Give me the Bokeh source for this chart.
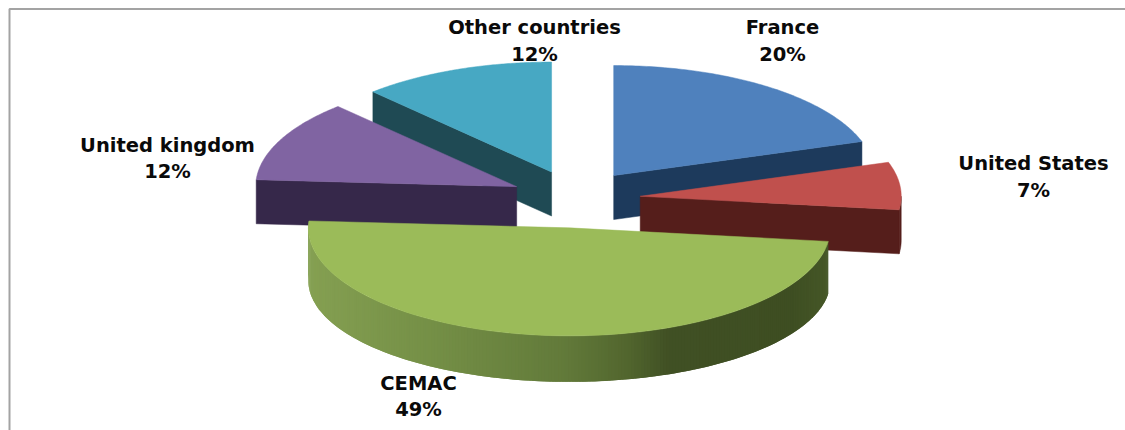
import math
from bokeh.plotting import figure
from bokeh.models import Range1d
from bokeh.core.properties import value
from bokeh.embed import file_html
from bokeh.resources import INLINE

# ---- data -------------------------------------------------------------
categories = ["France", "United States", "CEMAC", "United kingdom", "Other countries"]
shares = [20, 7, 49, 12, 12]
top_colors = ["#4f81bd", "#c0504d", "#9bbb59", "#8064a2", "#47a8c3"]
side_colors = ["#1d3a5c", "#551e1b", "#4a5e2b", "#36284a", "#1f4a54"]
draw_order = [4, 0, 3, 1, 2]

# label centres (page pixels)
label_x = [782, 1033, 418, 167, 534]
label_y1 = [27, 163, 383, 145, 27]
label_y2 = [54, 190, 409, 171, 54]

# gradient on the big slice's outer wall: (fraction across, colour)
wall_stops = [(0.0, (133, 160, 82)), (0.25, (116, 143, 70)), (0.5, (98, 122, 58)),
              (0.62, (82, 102, 46)), (0.70, (64, 80, 36)), (0.93, (62, 78, 34)),
              (1.0, (70, 88, 40))]

# ---- layout -------------------------------------------------------------
W, H = 1125, 430
CX, CY = 575, 198.5     # pie centre
A, B_BACK, B_FRONT = 261, 110, 108
EX, EY = 65, 29          # explosion
DEPTH = 44
WALL_D, WALL_B = 53, 101  # lower rim of a front wall


def rim(ax, ay, deg):
    t = math.radians(deg)
    b = B_BACK if math.cos(t) >= 0 else B_FRONT
    return ax + A * math.sin(t), ay - b * math.cos(t)


def low(ax, ay, deg):
    t = math.radians(deg)
    return ax + A * math.sin(t), ay + WALL_D - WALL_B * math.cos(t)


def mix(f):
    for (f0, c0), (f1, c1) in zip(wall_stops, wall_stops[1:]):
        if f <= f1:
            k = (f - f0) / (f1 - f0)
            return "#%02x%02x%02x" % tuple(round(a + (b - a) * k) for a, b in zip(c0, c1))
    return "#%02x%02x%02x" % wall_stops[-1][1]


p = figure(width=W, height=H, x_range=Range1d(0, W), y_range=Range1d(H, 0),
           output_backend="svg", toolbar_location=None, min_border=0,
           background_fill_color="white",
           border_fill_color="white", outline_line_color=None)
p.axis.visible = False
p.grid.visible = False

# chart frame
p.line([9, 9, W], [H, 8.5, 8.5], line_color="#a3a3a3", line_width=2)

starts, acc = [], 0
for s in shares:
    starts.append(acc * 3.6)
    acc += s

big = shares.index(max(shares))
for i in draw_order:
    a0, a1 = starts[i], starts[i] + shares[i] * 3.6
    mid = math.radians((a0 + a1) / 2)
    ax, ay = CX + EX * math.sin(mid), CY - EY * math.cos(mid)

    # radial cut face
    for edge, show in ((a1, 0 < a1 < 180), (a0, 180 < a0 < 360)):
        if show:
            tx, ty = rim(ax, ay, edge)
            p.patch([ax, tx, tx, ax], [ay, ty, ty + DEPTH, ay + DEPTH],
                    fill_color=side_colors[i], line_color=side_colors[i], line_width=0.5)

    # outer wall
    lo, hi = max(a0, 90), min(a1, 270)
    if i != big and lo < hi:
        n = 6
        angs = [lo + (hi - lo) * k / n for k in range(n + 1)]
        xs = [rim(ax, ay, d)[0] for d in angs] + [rim(ax, ay, d)[0] for d in reversed(angs)]
        ys = [rim(ax, ay, d)[1] for d in angs] + [rim(ax, ay, d)[1] + DEPTH for d in reversed(angs)]
        p.patch(xs, ys, fill_color=side_colors[i], line_color=side_colors[i], line_width=0.5)
    elif i == big:
        n = 240
        xmin, xmax = ax - A, ax + A
        angs = [a0 + (a1 - a0) * k / n for k in range(n + 1)]
        # drawn from the far end, each strip running under the next one
        for k in range(n - 1, -1, -1):
            d0, d1 = angs[k], angs[min(k + 2, n)]
            x0, y0 = rim(ax, ay, d0)
            x1, y1 = rim(ax, ay, d1)
            x2, y2 = low(ax, ay, d1)
            x3, y3 = low(ax, ay, d0)
            c = mix((x0 - xmin) / (xmax - xmin))
            p.patch([x0, x1, x2, x3], [y0, y1, y2, y3], fill_color=c, line_color=None)

    # top face
    n = 90
    angs = [a0 + (a1 - a0) * k / n for k in range(n + 1)]
    pts = [rim(ax, ay, d) for d in angs]
    p.patch([ax] + [q[0] for q in pts], [ay] + [q[1] for q in pts],
            fill_color=top_colors[i], line_color=top_colors[i], line_width=0.5)

# labels
for i, name in enumerate(categories):
    for txt, y in ((name, label_y1[i]), (f"{shares[i]}%", label_y2[i])):
        p.text([label_x[i]], [y], text=[txt], text_align="center", text_baseline="middle",
               text_font=value("DejaVu Sans"), text_font_style="bold",
               text_font_size="19.5px", text_color="#0a0a0a")

open("out.html", "w").write(file_html(p, INLINE))
